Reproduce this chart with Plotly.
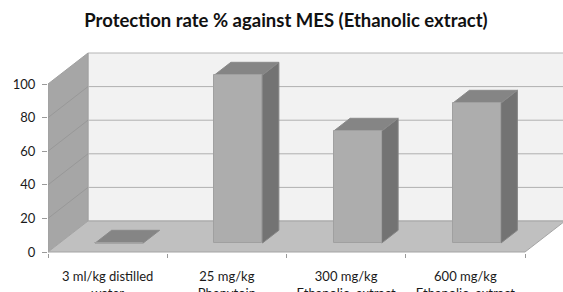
import plotly.graph_objects as go

# ---- data ----
categories = ["3 ml/kg distilled<br>water", "25 mg/kg<br>Phenytoin",
              "300 mg/kg<br>Ethanolic  extract", "600 mg/kg<br>Ethanolic  extract"]
protection = [0, 100, 66.67, 83.33]
y_ticks = [0, 20, 40, 60, 80, 100]
title_text = "Protection rate % against MES (Ethanolic extract)"

# ---- 3D oblique projection geometry (styling) ----
PX_CAT = 119.25          # pixels per category
PX_VAL = 1.68            # pixels per value unit
DX = 40 / PX_CAT         # full depth shift in x (category units)
DY = 31 / PX_VAL         # full depth shift in y (value units)
BAR_W = 48 / PX_CAT
D0, D1 = 0.29, 0.70      # bar depth span
N = len(categories)
X0, X1 = -0.5, N - 0.5
VMAX = y_ticks[-1]


def P(x, v, d):
    return x + d * DX, v + d * DY


def poly(pts, fill, line, z, width=1):
    xs = [p[0] for p in pts] + [pts[0][0]]
    ys = [p[1] for p in pts] + [pts[0][1]]
    return go.Scatter(x=xs, y=ys, mode="lines", fill="toself", fillcolor=fill,
                      line=dict(color=line, width=width), hoverinfo="skip",
                      showlegend=False, zorder=z)


def seg(a, b, color, z):
    return go.Scatter(x=[a[0], b[0]], y=[a[1], b[1]], mode="lines",
                      line=dict(color=color, width=1), hoverinfo="skip",
                      showlegend=False, zorder=z)


traces = []
# back wall
traces.append(poly([P(X0, 0, 1), P(X1, 0, 1), P(X1, VMAX, 1), P(X0, VMAX, 1)],
                   "#f2f2f2", "#b4b4b4", 0))
# side wall
traces.append(poly([P(X0, 0, 0), P(X0, 0, 1), P(X0, VMAX, 1), P(X0, VMAX, 0)],
                   "#a6a6a6", "#a0a0a0", 0))
# floor
traces.append(poly([P(X0, 0, 0), P(X1, 0, 0), P(X1, 0, 1), P(X0, 0, 1)],
                   "#c0c0c0", "#a4a4a4", 0))
# gridlines
for t in y_ticks[1:-1]:
    traces.append(seg(P(X0, t, 1), P(X1, t, 1), "#b0b0b0", 0))
for t in y_ticks[1:-1]:
    traces.append(seg(P(X0, t, 0), P(X0, t, 1), "#989898", 0))

# bar sides and tops
for i, v in enumerate(protection):
    xl = i - BAR_W / 2
    xr = i + BAR_W / 2
    if v > 0:
        traces.append(poly([P(xr, 0, D0), P(xr, 0, D1), P(xr, v, D1), P(xr, v, D0)],
                           "#737373", "#858585", 1))
    traces.append(poly([P(xl, v, D0), P(xr, v, D0), P(xr, v, D1), P(xl, v, D1)],
                       "#858585", "#8a8a8a", 1))

# bar front faces
traces.append(go.Bar(x=[i + D0 * DX for i in range(N)], y=protection,
                     base=D0 * DY, width=BAR_W,
                     marker=dict(color="#adadad", line=dict(color="#a0a0a0", width=1)),
                     hoverinfo="skip", showlegend=False, zorder=2))

fig = go.Figure(traces)

W, H = 563, 292
ML, MR, MT, MB = 48, 0, 40, 39
plot_w = W - ML - MR
plot_h = H - MT - MB
ybot = -1 / PX_VAL
fig.update_layout(
    width=W, height=H,
    margin=dict(l=ML, r=MR, t=MT, b=MB),
    paper_bgcolor="white", plot_bgcolor="white",
    font=dict(family="Lato", size=13, color="#1a1a1a"),
    title=dict(text="<b>" + title_text + "</b>", x=286 / W, xref="container",
               xanchor="center", y=1 - 21 / H, yref="container", yanchor="middle",
               font=dict(family="Lato", size=18.5, color="#111111")),
    xaxis=dict(range=[X0, X0 + plot_w / PX_CAT], tickmode="array",
               tickvals=list(range(N)), ticktext=categories, ticks="",
               showgrid=False, zeroline=False, showline=False, automargin=False,
               ticklabelstandoff=14,
               minor=dict(ticks="outside", tickmode="array",
                          tickvals=[X0 + k for k in range(N + 1)],
                          ticklen=4, tickcolor="#9a9a9a", showgrid=False)),
    yaxis=dict(range=[ybot, ybot + plot_h / PX_VAL], tickmode="array",
               tickvals=y_ticks, ticks="outside", ticklen=5, tickcolor="#9a9a9a",
               showgrid=False, zeroline=False, showline=False, automargin=False,
               ticklabelstandoff=4),
    bargap=0,
)

fig.write_html("out.html", config={"displayModeBar": False},
               post_script="document.body.style.margin='0px';document.body.style.overflow='hidden';")
